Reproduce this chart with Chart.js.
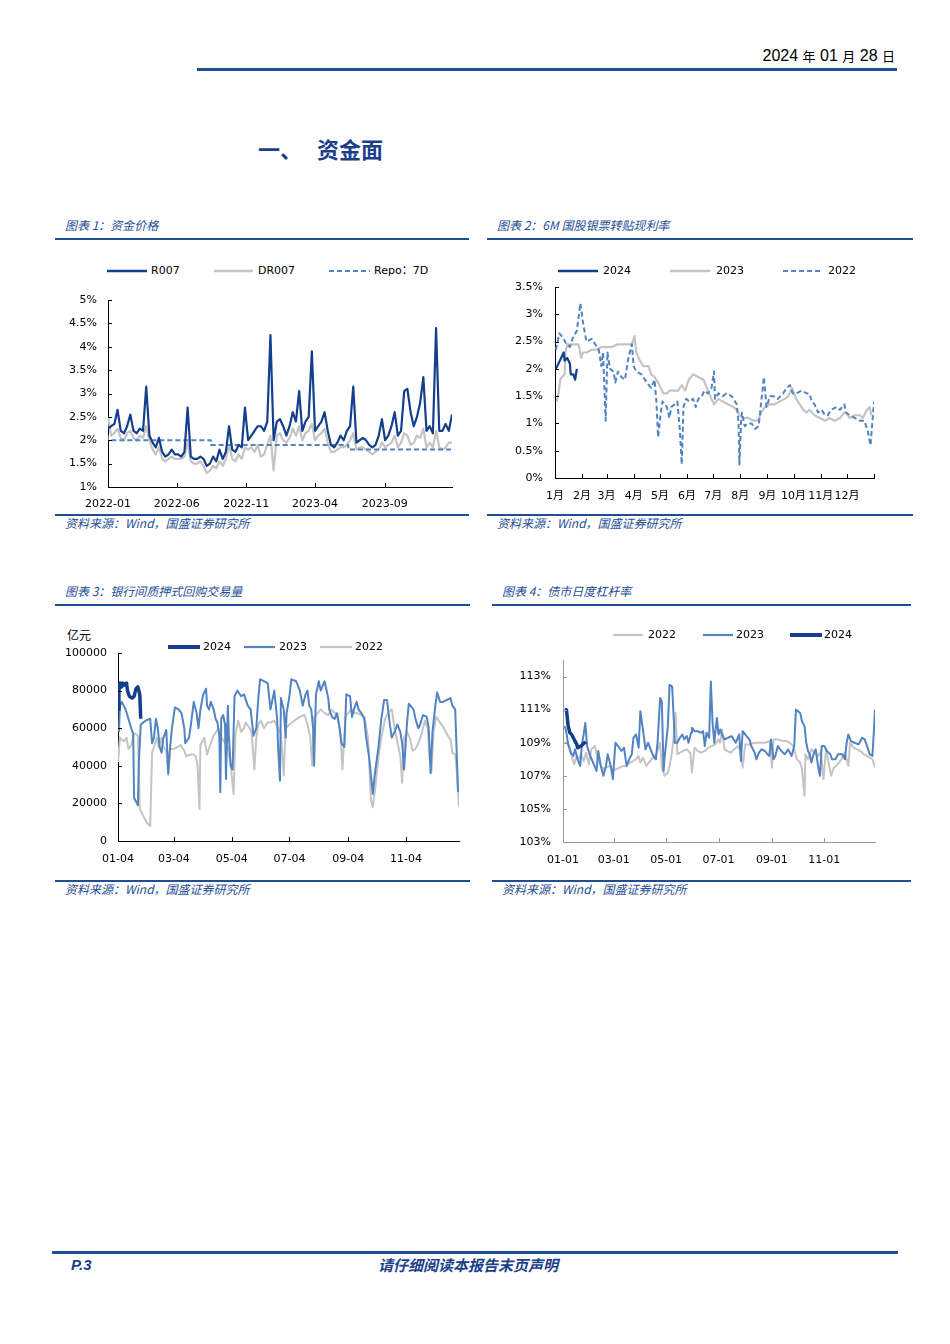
<!DOCTYPE html>
<html>
<head>
<meta charset="utf-8">
<script src="https://cdn.jsdelivr.net/npm/chart.js@4.4.1/dist/chart.umd.min.js"></script>
<style>
body { margin: 0; background: #fff; }
#page { position: relative; width: 950px; height: 1344px; overflow: hidden; }
.rule { position: absolute; background: #1f4e96; }
.ttl { position: absolute; font: italic 12px "Noto Sans CJK SC", sans-serif; color: #1f4e96; line-height: 16px; white-space: nowrap; }
.src { position: absolute; font: italic 12px "Noto Sans CJK SC", sans-serif; color: #1f4e96; line-height: 14px; white-space: nowrap; }
.lgt { position: absolute; font: 11px "DejaVu Sans", "Noto Sans CJK SC", sans-serif; color: #000; line-height: 14px; white-space: nowrap; }
canvas { position: absolute; }
svg.lgl { position: absolute; overflow: visible; }
</style>
</head>
<body>
<div id="page">
  <div style="position:absolute;right:55px;top:46px;font:16px 'Liberation Sans',sans-serif;line-height:20px;color:#000;white-space:nowrap;">2024 <span style="font:13px 'Noto Sans CJK SC'">年</span> 01 <span style="font:13px 'Noto Sans CJK SC'">月</span> 28 <span style="font:13px 'Noto Sans CJK SC'">日</span></div>
  <div class="rule" style="left:197px;top:68px;width:700px;height:3px;"></div>

  <div style="position:absolute;left:258px;top:133px;font:bold 22px 'Noto Sans CJK SC';color:#1b4089;line-height:30px;">一、</div>
  <div style="position:absolute;left:317px;top:133px;font:bold 22px 'Noto Sans CJK SC';color:#1b4089;line-height:30px;">资金面</div>

  <!-- panel 1 -->
  <div class="ttl" style="left:65px;top:217px;">图表 1：资金价格</div>
  <div class="rule" style="left:55px;top:238px;width:414px;height:2px;"></div>
  <div class="rule" style="left:55px;top:514px;width:414px;height:2px;"></div>
  <div class="src" style="left:65px;top:516px;">资料来源：Wind，国盛证券研究所</div>
  <canvas id="c1" width="414" height="222" style="left:55px;top:290px;"></canvas>

  <!-- panel 2 -->
  <div class="ttl" style="left:497px;top:217px;">图表 2：6M 国股银票转贴现利率</div>
  <div class="rule" style="left:487px;top:238px;width:426px;height:2px;"></div>
  <div class="rule" style="left:487px;top:514px;width:426px;height:2px;"></div>
  <div class="src" style="left:497px;top:516px;">资料来源：Wind，国盛证券研究所</div>
  <canvas id="c2" width="426" height="226" style="left:487px;top:277px;"></canvas>

  <!-- panel 3 -->
  <div class="ttl" style="left:65px;top:583px;">图表 3：银行间质押式回购交易量</div>
  <div class="rule" style="left:55px;top:604px;width:415px;height:2px;"></div>
  <div class="rule" style="left:55px;top:880px;width:415px;height:2px;"></div>
  <div class="src" style="left:65px;top:882px;">资料来源：Wind，国盛证券研究所</div>
  <div style="position:absolute;left:67px;top:627px;font:12px 'Noto Sans CJK SC';line-height:16px;color:#000;">亿元</div>
  <canvas id="c3" width="415" height="223" style="left:55px;top:643px;"></canvas>

  <!-- panel 4 -->
  <div class="ttl" style="left:502px;top:583px;">图表 4：债市日度杠杆率</div>
  <div class="rule" style="left:492px;top:604px;width:419px;height:2px;"></div>
  <div class="rule" style="left:492px;top:880px;width:419px;height:2px;"></div>
  <div class="src" style="left:502px;top:882px;">资料来源：Wind，国盛证券研究所</div>
  <canvas id="c4" width="419" height="217" style="left:492px;top:650px;"></canvas>

  <div class="rule" style="left:52px;top:1251px;width:846px;height:3px;"></div>
  <div style="position:absolute;left:71px;top:1255px;font:italic bold 15px 'Liberation Sans',sans-serif;color:#1b3f8a;line-height:20px;">P.3</div>
  <div style="position:absolute;left:378px;top:1255px;font:italic bold 15px 'Noto Sans CJK SC';color:#1b3f8a;line-height:20px;">请仔细阅读本报告末页声明</div>
</div>
<script>
const DARK = '#143f8c';
const MID = '#5283c2';
const GRAY = '#c4c4c4';
const FONT = '"DejaVu Sans", "Noto Sans CJK SC", sans-serif';

// ---- 图表1 资金价格 (周度, 2022-01 起)
const c1R007 = [2.25, 2.3, 2.35, 2.65, 2.2, 2.15, 2.3, 2.55, 2.2, 2.15, 2.25, 2.2, 3.15,
  2.1, 1.95, 1.85, 2.05, 1.75, 1.65, 1.7, 1.8, 1.7, 1.7, 1.65, 1.75, 2.7,
  1.65, 1.6, 1.6, 1.65, 1.6, 1.45, 1.5, 1.65, 1.55, 1.8, 1.6, 1.75, 2.3,
  1.8, 1.75, 1.9, 1.85, 2.7, 2.0, 2.1, 2.2, 2.3, 2.3, 2.2, 2.4, 4.25,
  2.0, 2.4, 2.45, 2.3, 2.1, 2.3, 2.6, 2.4, 3.05, 2.2, 2.4, 2.5, 3.9,
  2.2, 2.3, 2.4, 2.6, 2.2, 1.9, 1.85, 1.95, 2.1, 2.0, 2.2, 2.3, 3.15,
  1.95, 2.0, 2.05, 2.0, 1.9, 1.85, 1.9, 2.1, 2.45, 2.0, 2.1, 2.3, 2.6,
  2.1, 2.2, 3.05, 3.1, 2.6, 2.3, 2.5, 2.8, 3.35, 2.2, 2.3, 2.15, 4.4, 2.2,
  2.2, 2.35, 2.2, 2.55];
const c1DR007 = [2.5, 2.1, 2.15, 2.25, 2.05, 2.0, 2.15, 2.2, 2.05, 2.0, 2.1, 2.05, 2.3,
  2.0, 1.8, 1.7, 1.85, 1.6, 1.55, 1.6, 1.65, 1.6, 1.6, 1.6, 1.65, 1.95,
  1.55, 1.5, 1.5, 1.55, 1.45, 1.3, 1.35, 1.45, 1.4, 1.55, 1.45, 1.6, 1.9,
  1.6, 1.55, 1.7, 1.6, 1.85, 1.8, 1.85, 1.75, 1.9, 1.65, 1.7, 1.9, 2.1,
  1.35, 2.1, 2.15, 2.0, 1.95, 2.05, 2.25, 2.1, 2.3, 2.0, 2.15, 2.2, 2.35,
  2.0, 2.1, 2.15, 2.25, 1.95, 1.75, 1.75, 1.8, 1.85, 1.85, 1.9, 2.0, 2.15,
  1.8, 1.85, 1.85, 1.8, 1.75, 1.7, 1.75, 1.8, 1.95, 1.85, 1.9, 1.95, 2.1,
  1.85, 1.95, 2.15, 2.1, 1.9, 1.95, 2.1, 2.05, 2.25, 1.85, 1.95, 1.85, 2.2, 1.85,
  1.8, 1.85, 1.95, 1.95];
const c1WeekDays = c1R007.map((_, i) => i * 7);
const c1RepoDays = [0, 226, 528, 591, 756];
const c1Repo = [2.1, 2.0, 1.9, 1.8, 1.8];
const c1TickDays = [0, 151, 304, 455, 608];
const c1TickLabels = ['2022-01', '2022-06', '2022-11', '2023-04', '2023-09'];
const c1YTicks = [1, 1.5, 2, 2.5, 3, 3.5, 4, 4.5, 5];

// ---- 图表2 6M国股银票转贴现利率 (年内天数)
const c2Days2024 = [1, 4, 7, 10, 11, 14, 17, 18, 21, 23, 25];
const c2Val2024 = [2.0, 2.1, 2.2, 2.3, 2.15, 2.2, 2.1, 1.9, 1.9, 1.8, 2.0];
const c2Days2023 = [2, 4, 6, 8, 11, 12, 14, 18, 23, 27, 30, 32, 36, 42, 48, 53, 59, 65, 72, 80, 88, 91, 93, 97,
  101, 107, 110, 114, 118, 124, 128, 131, 137, 141, 145, 149, 153, 158, 164, 170, 175, 179, 182, 187, 192,
  198, 204, 208, 211, 215, 221, 227, 232, 236, 240, 246, 251, 257, 263, 267, 271, 276, 280, 284, 288, 291,
  297, 303, 309, 314, 320, 326, 331, 333, 337, 343, 349, 352, 357, 360, 362];
const c2Val2023 = [1.4, 1.55, 1.8, 1.85, 1.9, 2.3, 2.45, 2.45, 2.45, 2.45, 2.2, 2.3, 2.3, 2.35, 2.35, 2.4, 2.4, 2.4, 2.45, 2.45, 2.45, 2.6, 2.3, 2.15,
  2.05, 2.05, 1.9, 1.85, 1.75, 1.55, 1.55, 1.6, 1.6, 1.6, 1.7, 1.6, 1.8, 1.9, 1.85, 1.8, 1.6, 1.45, 1.35, 1.45, 1.4,
  1.35, 1.3, 1.25, 1.15, 1.1, 1.1, 1.05, 1.05, 1.2, 1.3, 1.35, 1.35, 1.4, 1.45, 1.5, 1.65, 1.45, 1.35, 1.25, 1.2, 1.25,
  1.15, 1.1, 1.05, 1.1, 1.05, 1.1, 1.2, 1.2, 1.1, 1.15, 1.15, 1.1, 1.25, 1.3, 1.15];
const c2Days2022 = [1, 5, 10, 13, 17, 20, 25, 29, 32, 36, 42, 46, 50, 53, 55, 58, 60, 63, 67, 69, 72, 76, 80, 84, 88, 90, 93,
  99, 105, 110, 114, 116, 118, 121, 123, 128, 131, 133, 137, 140, 143, 145, 147, 150, 154, 158, 161, 164, 168,
  171, 175, 179, 182, 183, 187, 192, 196, 202, 208, 210, 211, 213, 214, 217, 221, 225, 229, 233, 236, 239, 242,
  246, 250, 255, 261, 265, 269, 272, 276, 282, 288, 291, 294, 297, 301, 305, 309, 312, 316, 322, 326, 331, 333,
  337, 343, 349, 354, 358, 361, 363, 365];
const c2Val2022 = [2.35, 2.65, 2.55, 2.45, 2.4, 2.55, 2.7, 3.2, 2.85, 2.5, 2.55, 2.45, 2.35, 2.05, 2.3, 1.05, 2.3, 2.0, 1.95, 1.75, 1.95, 1.85, 1.8, 2.2, 2.45, 2.05, 1.95,
  1.9, 1.75, 1.65, 1.8, 1.4, 0.75, 1.2, 1.4, 1.3, 1.1, 1.3, 1.35, 1.4, 0.85, 0.25, 1.3, 1.45, 1.4, 1.45, 1.3, 1.45, 1.5,
  1.6, 1.55, 1.65, 1.95, 1.45, 1.55, 1.5, 1.55, 1.5, 1.35, 1.0, 0.25, 1.05, 1.2, 0.95, 1.0, 1.0, 0.9, 0.95, 1.4, 1.85, 1.3,
  1.5, 1.5, 1.45, 1.55, 1.65, 1.7, 1.55, 1.55, 1.6, 1.55, 1.55, 1.4, 1.35, 1.2, 1.25, 1.15, 1.15, 1.25, 1.3, 1.25, 1.35, 1.2,
  1.15, 1.1, 1.05, 1.05, 0.85, 0.6, 1.0, 1.4];
const c2TickDays = [0, 31, 59, 90, 120, 151, 181, 212, 243, 273, 304, 334, 365];
const c2TickLabels = ['1月', '2月', '3月', '4月', '5月', '6月', '7月', '8月', '9月', '10月', '11月', '12月', ''];
const c2YTicks = [0, 0.5, 1, 1.5, 2, 2.5, 3, 3.5];

// ---- 图表3 银行间质押式回购交易量 (亿元, 自01-04起天数)
const c3Days2024 = [0, 1, 2, 4, 5, 7, 9, 10, 12, 15, 17, 19, 21, 23, 24];
const c3Val2024 = [70000, 80000, 84000, 82000, 84000, 83000, 84000, 80000, 77000, 76000, 77000, 81000, 82000, 78000, 65000];
const c3Days2023 = [1, 2, 4, 8, 11, 14, 16, 17, 19, 21, 22, 24, 29, 34, 36, 38, 40, 42, 44, 46, 48, 51, 53, 55, 57, 60,
  64, 67, 70, 71, 75, 77, 80, 83, 85, 87, 90, 93, 94, 96, 98, 101, 103, 105, 107, 108, 109, 111, 113, 114, 116,
  117, 119, 121, 123, 126, 130, 133, 137, 140, 143, 146, 148, 150, 154, 158, 161, 165, 168, 169, 171, 172, 175,
  177, 178, 181, 183, 188, 192, 195, 198, 200, 202, 204, 206, 207, 209, 212, 214, 218, 222, 223, 226, 229, 231,
  234, 236, 239, 241, 245, 247, 249, 252, 254, 257, 260, 262, 265, 267, 269, 271, 275, 278, 281, 284, 287, 289,
  292, 295, 298, 300, 302, 305, 307, 312, 314, 317, 319, 322, 326, 328, 330, 332, 335, 337, 340, 343, 347, 351,
  353, 356, 359];
const c3Val2023 = [58000, 72000, 74000, 70000, 65000, 60000, 57000, 23000, 21000, 19000, 41000, 62000, 64000, 65000, 52000, 55000, 65000, 60000, 50000, 47000, 55000, 59000, 36000, 50000, 60000, 71000,
  70000, 68000, 60000, 52000, 55000, 62000, 74000, 68000, 60000, 70000, 78000, 81000, 72000, 70000, 74000, 70000, 65000, 63000, 56000, 26000, 65000, 67000, 62000, 33000, 72000,
  56000, 40000, 38000, 77000, 80000, 77000, 78000, 72000, 70000, 56000, 60000, 75000, 86000, 85000, 84000, 70000, 80000, 65000, 50000, 32000, 76000, 70000,
  55000, 68000, 77000, 86000, 85000, 80000, 72000, 78000, 80000, 72000, 70000, 60000, 40000, 78000, 85000, 80000, 85000, 76000, 70000, 66000, 65000, 68000,
  60000, 52000, 50000, 78000, 77000, 66000, 70000, 74000, 70000, 68000, 65000, 55000, 45000, 35000, 25000, 35000, 50000, 65000, 75000, 75000, 62000, 55000,
  58000, 62000, 58000, 52000, 38000, 62000, 73000, 70000, 65000, 60000, 62000, 67000, 66000, 60000, 36000, 58000, 72000, 79000, 74000, 74000, 75000, 76000,
  72000, 70000, 26000];
const c3Days2022 = [0, 2, 6, 9, 11, 14, 17, 19, 21, 23, 27, 30, 34, 36, 38, 41, 43, 46, 48, 51, 53, 55, 59, 63, 66, 70,
  72, 76, 80, 82, 84, 86, 87, 91, 94, 98, 101, 106, 108, 112, 116, 119, 122, 124, 127, 130, 133, 135, 139, 141,
  144, 146, 148, 151, 154, 158, 161, 165, 169, 172, 175, 177, 181, 186, 192, 197, 200, 203, 205, 207, 211, 214,
  218, 222, 225, 229, 232, 235, 237, 240, 243, 246, 250, 253, 257, 260, 264, 267, 269, 272, 275, 278, 282, 285,
  289, 292, 296, 298, 300, 302, 305, 308, 311, 314, 317, 320, 324, 327, 329, 331, 333, 336, 340, 343, 347, 351,
  353, 356, 358, 360];
const c3Val2022 = [42000, 55000, 53000, 55000, 49000, 51000, 57000, 57000, 56000, 17000, 13000, 10000, 8000, 47000, 50000, 55000, 50000, 55000, 50000, 48000, 35000, 49000, 49000, 50000, 51000, 48000,
  45000, 46000, 46000, 45000, 40000, 17000, 51000, 55000, 46000, 52000, 56000, 60000, 56000, 53000, 50000, 40000, 25000, 57000, 64000, 58000, 60000, 63000, 60000, 58000,
  38000, 55000, 62000, 64000, 60000, 63000, 63000, 64000, 60000, 57000, 35000, 60000, 62000, 64000, 66000, 67000, 62000, 55000, 40000, 66000, 68000, 70000,
  68000, 67000, 70000, 68000, 67000, 55000, 38000, 66000, 68000, 70000, 68000, 68000, 67000, 66000, 55000, 22000, 18000, 30000, 45000, 55000, 65000, 68000,
  70000, 60000, 50000, 45000, 31000, 55000, 58000, 55000, 48000, 49000, 52000, 56000, 64000, 60000, 44000, 37000, 58000, 66000, 63000, 61000, 57000, 54000,
  47000, 46000, 35000, 18000];
const c3TickDays = [0, 59, 120, 181, 243, 304];
const c3TickLabels = ['01-04', '03-04', '05-04', '07-04', '09-04', '11-04'];
const c3YTicks = [0, 20000, 40000, 60000, 80000, 100000];

// ---- 图表4 债市日度杠杆率 (%, 自01-01起天数)
const c4Days2024 = [2, 4, 6, 8, 10, 12, 14, 16, 17, 21, 23, 25, 26];
const c4Val2024 = [111.0, 111.0, 110.0, 109.6, 109.5, 109.3, 109.1, 108.9, 108.7, 108.8, 108.9, 109.0, 108.9];
const c4Days2023 = [2, 4, 6, 9, 12, 14, 17, 20, 22, 24, 26, 28, 31, 35, 39, 41, 44, 47, 50, 52, 56, 58, 61, 64, 68, 71,
  74, 77, 80, 82, 85, 88, 90, 93, 96, 99, 102, 105, 108, 110, 113, 115, 117, 118, 122, 124, 127, 129, 130, 133,
  136, 139, 141, 144, 146, 149, 150, 153, 157, 160, 163, 165, 167, 170, 172, 174, 176, 179, 181, 183, 185, 188,
  192, 196, 201, 205, 207, 209, 212, 215, 217, 219, 223, 225, 228, 231, 235, 238, 240, 242, 245, 247, 250, 254,
  258, 262, 266, 269, 271, 276, 278, 281, 283, 285, 287, 289, 292, 294, 297, 299, 301, 304, 307, 311, 313, 317,
  320, 322, 325, 328, 330, 332, 335, 339, 344, 348, 351, 355, 357, 360, 362, 363];
const c4Val2023 = [110.0, 109.6, 108.9, 108.4, 108.2, 108.6, 108.0, 107.6, 108.9, 109.5, 110.2, 108.8, 108.3, 107.8, 107.3, 108.5, 107.6, 107.0, 107.6, 108.3, 107.5, 106.8, 109.0, 108.8, 108.5, 108.7,
  107.6, 108.0, 108.3, 109.3, 109.5, 108.7, 110.9, 109.8, 108.6, 109.0, 108.6, 108.2, 108.0, 109.0, 111.7, 111.5, 107.3, 108.0, 110.0, 112.5, 112.4, 110.3, 109.0, 109.0,
  109.3, 109.5, 109.2, 109.4, 109.0, 109.6, 109.9, 109.7, 109.7, 109.6, 109.7, 108.8, 109.6, 109.3, 112.7, 110.2, 109.0, 110.5, 109.5, 109.8, 109.5, 109.2,
  109.3, 109.4, 109.0, 109.5, 107.9, 109.7, 109.5, 109.3, 109.2, 108.8, 108.4, 108.0, 108.4, 108.6, 108.5, 108.3, 108.2, 109.2, 108.0, 108.2, 108.8, 108.5,
  108.3, 108.6, 108.2, 108.8, 111.0, 110.8, 110.3, 110.0, 109.0, 108.5, 108.3, 107.8, 108.4, 108.6, 107.5, 107.0, 108.8, 108.8, 108.5, 108.3, 108.0, 108.0,
  108.3, 108.3, 108.3, 108.0, 109.0, 109.5, 109.1, 109.0, 108.9, 109.3, 109.2, 108.6, 108.3, 108.2, 110.0, 111.0];
const c4Days2022 = [2, 5, 8, 10, 13, 16, 18, 21, 24, 27, 30, 33, 37, 40, 43, 47, 50, 54, 58, 62, 66, 70, 74, 78, 82, 85,
  88, 90, 93, 97, 100, 103, 107, 110, 113, 115, 118, 122, 124, 127, 129, 131, 133, 136, 140, 144, 148, 150, 153,
  157, 160, 165, 169, 173, 177, 181, 183, 185, 188, 191, 195, 199, 204, 207, 209, 212, 217, 223, 229, 235, 241,
  243, 245, 250, 256, 260, 264, 268, 272, 276, 278, 281, 282, 285, 289, 293, 297, 300, 303, 306, 309, 312, 315,
  318, 321, 324, 328, 332, 334, 338, 342, 346, 350, 353, 357, 360, 363];
const c4Val2022 = [109.0, 109.0, 108.7, 108.2, 107.7, 108.2, 108.0, 108.3, 107.9, 108.4, 107.7, 108.6, 108.8, 108.1, 107.7, 107.4, 107.5, 107.6, 107.3, 107.4, 107.5, 107.6, 107.6, 107.8, 107.9, 108.0,
  108.2, 107.8, 108.1, 107.6, 107.8, 108.0, 108.2, 108.5, 109.0, 107.5, 107.0, 107.2, 107.6, 108.5, 109.5, 110.8, 108.3, 108.4, 108.5, 108.6, 108.4, 107.2, 108.7,
  108.5, 108.4, 108.5, 108.7, 108.8, 108.9, 109.2, 109.0, 109.8, 108.6, 108.5, 108.4, 108.6, 108.8, 108.4, 107.5, 108.9, 108.9, 109.0, 109.0, 109.0, 109.1,
  107.5, 109.2, 109.2, 109.1, 109.1, 109.0, 108.8, 108.0, 107.8, 107.4, 105.8, 108.3, 108.0, 108.6, 108.4, 108.2, 108.5, 106.8, 108.6, 107.8, 107.0, 107.5,
  107.6, 107.8, 108.0, 108.4, 107.6, 109.0, 108.7, 108.6, 108.5, 108.3, 108.2, 108.1, 108.0, 107.5];
const c4TickDays = [0, 59, 120, 181, 243, 304];
const c4TickLabels = ['01-01', '03-01', '05-01', '07-01', '09-01', '11-01'];
const c4YTicks = [103, 105, 107, 109, 111, 113];

const pts = (xs, ys) => xs.map((x, i) => ({ x: x, y: ys[i] }));

// 刻度线画在坐标轴内侧
const innerTicks = {
  id: 'innerTicks',
  afterDraw(chart) {
    const { ctx, chartArea: a, scales: { x, y } } = chart;
    ctx.save();
    ctx.strokeStyle = chart.options.scales.x.border.color;
    ctx.lineWidth = 1;
    ctx.beginPath();
    x.ticks.forEach(t => {
      const px = Math.round(x.getPixelForValue(t.value)) + 0.5;
      ctx.moveTo(px, a.bottom);
      ctx.lineTo(px, a.bottom - 4);
    });
    y.ticks.forEach(t => {
      const py = Math.round(y.getPixelForValue(t.value)) + 0.5;
      ctx.moveTo(a.left, py);
      ctx.lineTo(a.left + 4, py);
    });
    ctx.stroke();
    ctx.restore();
  }
};

function lineChart(id, o) {
  return new Chart(document.getElementById(id), {
    type: 'line',
    data: { datasets: o.datasets },
    options: {
      responsive: false,
      animation: false,
      events: [],
      layout: { autoPadding: false, padding: o.pad },
      plugins: { legend: { display: false }, tooltip: { enabled: false } },
      elements: { point: { radius: 0 }, line: { tension: 0, borderJoinStyle: 'round' } },
      scales: {
        x: {
          type: 'linear', min: o.xMin, max: o.xMax,
          grid: { display: false, drawTicks: false },
          border: { color: o.axis, width: 1 },
          afterBuildTicks: s => { s.ticks = o.xTicks.map(v => ({ value: v })); },
          afterFit: s => { s.height = 25; s.paddingLeft = 0; s.paddingRight = 0; },
          ticks: {
            autoSkip: false, maxRotation: 0, padding: o.xPad, color: '#000',
            font: { family: FONT, size: 11 },
            callback: (v, i) => o.xLabels[i]
          }
        },
        y: {
          min: o.yMin, max: o.yMax,
          grid: { display: false, drawTicks: false },
          border: { color: o.axis, width: 1 },
          afterBuildTicks: s => { s.ticks = o.yTicks.map(v => ({ value: v })); },
          afterFit: s => { s.width = o.yw; s.paddingTop = 0; s.paddingBottom = 0; },
          ticks: {
            padding: o.yPad, color: '#000',
            font: { family: FONT, size: 11 },
            callback: o.yFmt
          }
        }
      }
    },
    plugins: [innerTicks]
  });
}

lineChart('c1', {
  datasets: [
    { data: pts(c1WeekDays, c1R007), borderColor: DARK, borderWidth: 2.2 },
    { data: pts(c1RepoDays, c1Repo), borderColor: MID, borderWidth: 2, borderDash: [5, 3], stepped: 'after' },
    { data: pts(c1WeekDays, c1DR007), borderColor: GRAY, borderWidth: 2.2 }
  ],
  pad: { left: 0, right: 17, top: 10, bottom: 0 }, yw: 53, xPad: 11, yPad: 11, axis: '#000',
  xMin: 0, xMax: 756, xTicks: c1TickDays, xLabels: c1TickLabels,
  yMin: 1, yMax: 5, yTicks: c1YTicks, yFmt: v => v + '%'
});

lineChart('c2', {
  datasets: [
    { data: pts(c2Days2024, c2Val2024), borderColor: DARK, borderWidth: 2.2 },
    { data: pts(c2Days2022, c2Val2022), borderColor: MID, borderWidth: 2, borderDash: [5, 3] },
    { data: pts(c2Days2023, c2Val2023), borderColor: GRAY, borderWidth: 2.2 }
  ],
  pad: { left: 0, right: 39, top: 10, bottom: 0 }, yw: 68, xPad: 12, yPad: 12, axis: '#000',
  xMin: 0, xMax: 365, xTicks: c2TickDays, xLabels: c2TickLabels,
  yMin: 0, yMax: 3.5, yTicks: c2YTicks, yFmt: v => v + '%'
});

lineChart('c3', {
  datasets: [
    { data: pts(c3Days2024, c3Val2024), borderColor: DARK, borderWidth: 3.5 },
    { data: pts(c3Days2023, c3Val2023), borderColor: MID, borderWidth: 2 },
    { data: pts(c3Days2022, c3Val2022), borderColor: GRAY, borderWidth: 2 }
  ],
  pad: { left: 0, right: 11, top: 10, bottom: 0 }, yw: 63, xPad: 12, yPad: 11, axis: '#000',
  xMin: 0, xMax: 360, xTicks: c3TickDays, xLabels: c3TickLabels,
  yMin: 0, yMax: 100000, yTicks: c3YTicks, yFmt: v => String(v)
});

lineChart('c4', {
  datasets: [
    { data: pts(c4Days2024, c4Val2024), borderColor: DARK, borderWidth: 3.5 },
    { data: pts(c4Days2023, c4Val2023), borderColor: MID, borderWidth: 2 },
    { data: pts(c4Days2022, c4Val2022), borderColor: GRAY, borderWidth: 2 }
  ],
  pad: { left: 0, right: 36, top: 10, bottom: 0 }, yw: 71, xPad: 12, yPad: 12, axis: '#999',
  xMin: 0, xMax: 363, xTicks: c4TickDays, xLabels: c4TickLabels,
  yMin: 103, yMax: 114, yTicks: c4YTicks, yFmt: v => v + '%'
});

// 图例 (HTML)
const legends = [
  { y: 271, items: [
    { x1: 107, x2: 147, tx: 151, label: 'R007', color: DARK, w: 2.5 },
    { x1: 214, x2: 253, tx: 258, label: 'DR007', color: GRAY, w: 2.5 },
    { x1: 329, x2: 370, tx: 374, label: 'Repo：7D', color: MID, w: 2, dash: '5 3' }] },
  { y: 271, items: [
    { x1: 558, x2: 598, tx: 603, label: '2024', color: DARK, w: 2.5 },
    { x1: 670, x2: 710, tx: 716, label: '2023', color: GRAY, w: 2.5 },
    { x1: 783, x2: 823, tx: 828, label: '2022', color: MID, w: 2, dash: '5 3' }] },
  { y: 647, items: [
    { x1: 168, x2: 200, tx: 203, label: '2024', color: DARK, w: 4 },
    { x1: 244, x2: 275, tx: 279, label: '2023', color: MID, w: 2.2 },
    { x1: 320, x2: 352, tx: 355, label: '2022', color: GRAY, w: 2.2 }] },
  { y: 635, items: [
    { x1: 613, x2: 643, tx: 648, label: '2022', color: GRAY, w: 2.2 },
    { x1: 703, x2: 733, tx: 736, label: '2023', color: MID, w: 2.2 },
    { x1: 790, x2: 822, tx: 824, label: '2024', color: DARK, w: 4 }] }
];
const page = document.getElementById('page');
const NS = 'http://www.w3.org/2000/svg';
legends.forEach(lg => {
  lg.items.forEach(it => {
    const svg = document.createElementNS(NS, 'svg');
    svg.setAttribute('class', 'lgl');
    svg.setAttribute('width', it.x2 - it.x1);
    svg.setAttribute('height', 6);
    svg.style.left = it.x1 + 'px';
    svg.style.top = (lg.y - 3) + 'px';
    const ln = document.createElementNS(NS, 'line');
    ln.setAttribute('x1', 0); ln.setAttribute('x2', it.x2 - it.x1);
    ln.setAttribute('y1', 3); ln.setAttribute('y2', 3);
    ln.setAttribute('stroke', it.color);
    ln.setAttribute('stroke-width', it.w);
    if (it.dash) ln.setAttribute('stroke-dasharray', it.dash);
    svg.appendChild(ln);
    page.appendChild(svg);
    const t = document.createElement('div');
    t.className = 'lgt';
    t.style.left = it.tx + 'px';
    t.style.top = (lg.y - 7) + 'px';
    t.textContent = it.label;
    page.appendChild(t);
  });
});
</script>
</body>
</html>
